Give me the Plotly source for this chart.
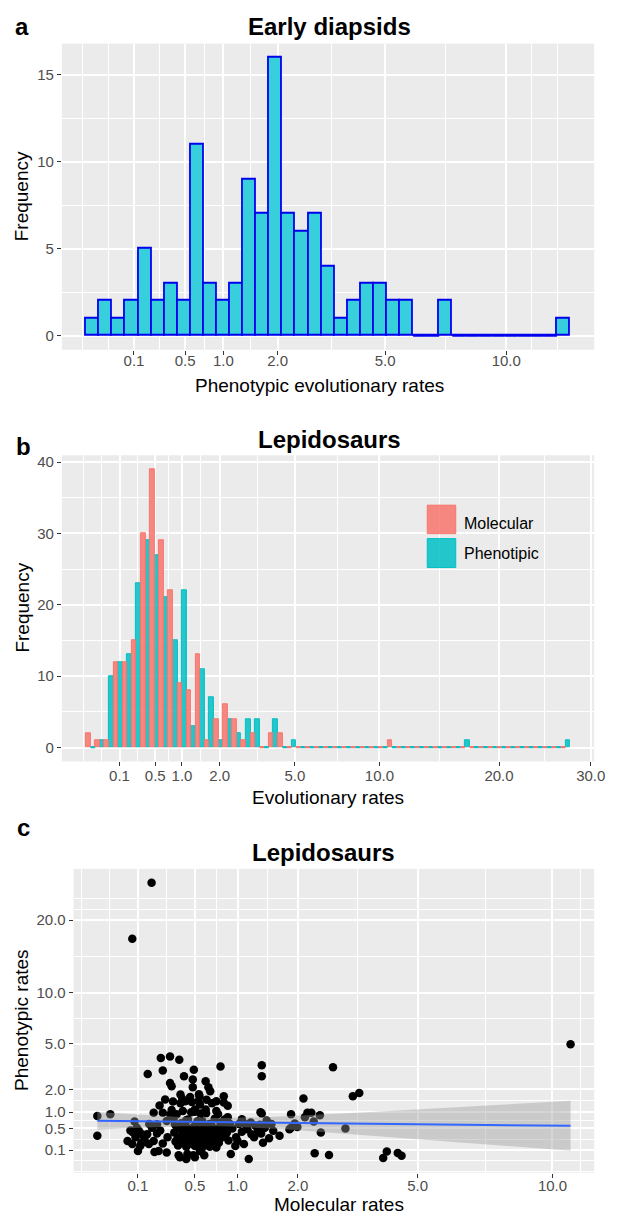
import numpy as np
import plotly.graph_objects as go

W, H = 618, 1219
FONT = "Liberation Sans, Arial, Helvetica, sans-serif"

# ---------------- DATA ----------------
# Panel a: Early diapsids, phenotypic rates (histogram, bins of width 0.1 on the sqrt scale)
early_binwidth_sqrt = 0.1
early_counts = [1, 2, 1, 2, 5, 2, 3, 2, 11, 3, 2, 3, 9, 7, 16, 7, 6, 7, 4, 1, 2, 3, 3, 2, 2,
                0, 0, 2, 0, 0, 0, 0, 0, 0, 0, 0, 1]

# Panel b: Lepidosaurs, molecular vs phenotypic rates (dodged histogram, sqrt-scale bins of 0.1)
lepi_binwidth_sqrt = 0.1
lepi_molecular_counts = [2, 1, 1, 12, 12, 15, 30, 39, 29, 22, 9, 8, 13, 1, 4, 6, 4, 1, 2, 0, 2, 2,
                         0, 0, 0, 0, 0, 0, 0, 0, 0, 0, 0, 1, 0, 0, 0, 0, 0, 0, 0, 0, 0, 0, 0, 0,
                         0, 0, 0, 0, 0, 0, 0]
lepi_phenotipic_counts = [0, 1, 10, 12, 13, 23, 29, 27, 21, 15, 22, 3, 11, 7, 1, 4, 2, 4, 4, 0, 4, 0, 1,
                          0, 0, 0, 0, 0, 0, 0, 0, 0, 0, 0, 0, 0, 0, 0, 0, 0, 0, 1, 0, 0, 0, 0, 0,
                          0, 0, 0, 0, 0, 1]

# Panel c: Lepidosaurs, (molecular rate, phenotypic rate) per taxon
lepi_rate_pairs = [
    (0.0014, 0.87), (0.016, 0.93), (0.0014, 0.33), (0.086, 0.69), (0.147, 2.86), (0.224, 3.92),
    (0.288, 4.03), (0.36, 3.80), (0.237, 3.07), (0.288, 2.34), (0.30, 2.16), (0.37, 1.74),
    (0.253, 1.51), (0.216, 1.26), (0.18, 0.98), (0.237, 0.98), (0.30, 1.08), (0.339, 0.93),
    (0.104, 0.44), (0.119, 0.36), (0.13, 0.26), (0.06, 0.23), (0.077, 0.18), (0.10, 0.09),
    (0.153, 0.18), (0.18, 0.23), (0.144, 0.36), (0.21, 0.09), (0.264, 0.075), (0.237, 0.19),
    (0.20, 0.61), (0.264, 0.71), (0.325, 0.61), (0.365, 0.034),
    (0.78, 3.34), (1.36, 3.41), (1.36, 2.72), (0.49, 3.13), (0.40, 2.72), (0.48, 2.53),
    (0.48, 2.11), (0.61, 2.43), (0.64, 2.11), (0.66, 1.90), (0.546, 1.66), (0.82, 1.66),
    (0.73, 1.44), (0.55, 1.30), (0.41, 1.44), (0.39, 1.04), (0.50, 1.10), (0.61, 1.10),
    (0.73, 1.04), (0.87, 0.83), (1.06, 0.76), (1.36, 0.95), (0.42, 0.73), (1.20, 0.36),
    (1.41, 0.52), (1.55, 0.44), (1.66, 0.33), (1.00, 0.23), (0.97, 0.15), (0.91, 0.06),
    (1.16, 0.024), (0.73, 0.13), (0.55, 0.09), (0.42, 0.024), (0.50, 0.034), (1.87, 0.93),
    (1.87, 0.52), (1.11, 0.61), (1.26, 0.57), (0.84, 0.36), (0.74, 0.26), (0.65, 0.36),
    (2.74, 3.28), (2.11, 1.56), (3.21, 1.66), (3.37, 1.82), (2.19, 0.98), (2.27, 0.98),
    (2.45, 0.89), (2.14, 0.83), (1.94, 0.63), (1.99, 0.54), (2.32, 0.69), (1.84, 0.48),
    (2.47, 0.40), (3.03, 0.50), (2.34, 0.066), (2.65, 0.051), (4.10, 0.085), (4.00, 0.03),
    (4.41, 0.069), (4.52, 0.046),
    (10.8, 4.97), (0.168, 26.5), (0.077, 17.1),
    (0.07, 0.45), (0.09, 0.30), (0.11, 0.15), (0.095, 0.52), (0.115, 0.20), (0.08, 0.40),
    (0.17, 0.52), (0.20, 0.38), (0.125, 0.21), (0.155, 0.62), (0.185, 0.08),
    (0.22, 0.45), (0.27, 0.30), (0.29, 0.92),
    (0.31, 1.42), (0.32, 0.40), (0.33, 0.22), (0.34, 0.55), (0.35, 0.16), (0.36, 0.30),
    (0.37, 1.35), (0.38, 0.46), (0.39, 0.20), (0.40, 0.35), (0.41, 0.62), (0.42, 0.14),
    (0.315, 0.78), (0.345, 0.27), (0.355, 0.05), (0.375, 0.64), (0.385, 1.55), (0.395, 0.42),
    (0.405, 0.24), (0.415, 0.50),
    (0.43, 0.06), (0.44, 0.18), (0.45, 0.32), (0.46, 0.50), (0.47, 1.40), (0.48, 0.26),
    (0.49, 0.42), (0.50, 0.15), (0.51, 0.60), (0.52, 0.22), (0.53, 0.36), (0.54, 1.75),
    (0.55, 0.48), (0.56, 0.28), (0.435, 0.75), (0.445, 0.40), (0.455, 1.62), (0.465, 1.00),
    (0.475, 0.34), (0.485, 0.05), (0.495, 0.56), (0.505, 0.30), (0.515, 0.19), (0.525, 0.70),
    (0.535, 1.45), (0.545, 0.39), (0.555, 0.95), (0.50, 1.02),
    (0.57, 0.12), (0.58, 0.35), (0.59, 0.20), (0.60, 0.55), (0.61, 0.28), (0.62, 1.50),
    (0.63, 0.44), (0.64, 0.16), (0.65, 0.62), (0.66, 0.25), (0.67, 0.38), (0.68, 1.35),
    (0.69, 0.50), (0.70, 0.30), (0.71, 0.78), (0.72, 0.20), (0.575, 0.70), (0.595, 0.05),
    (0.615, 0.96), (0.635, 0.33), (0.655, 0.14), (0.675, 0.58), (0.695, 0.22), (0.715, 0.42),
    (0.74, 0.50), (0.76, 0.20), (0.78, 0.66), (0.80, 0.30), (0.82, 1.38), (0.84, 0.56),
    (0.86, 0.40), (0.88, 0.24), (0.90, 0.62), (0.75, 0.94), (0.79, 0.45), (0.83, 0.75),
    (0.87, 1.25), (0.77, 0.35),
    (0.93, 0.50), (0.98, 0.30), (1.02, 0.62), (1.06, 0.42), (1.09, 0.18),
    (1.14, 0.48), (1.19, 0.66), (1.24, 0.30), (1.30, 0.45),
    (1.33, 0.60), (1.35, 0.38), (1.38, 0.20), (1.40, 0.55), (1.44, 0.72), (1.48, 0.28),
    (1.52, 0.62), (1.34, 1.00),
]
molecular_rates = [p[0] for p in lepi_rate_pairs]
phenotypic_rates = [p[1] for p in lepi_rate_pairs]

# Axis tick labels (original units)
ticks_a = [0.1, 0.5, 1.0, 2.0, 5.0, 10.0]
ticks_b = [0.1, 0.5, 1.0, 2.0, 5.0, 10.0, 20.0, 30.0]
ticks_c_x = [0.1, 0.5, 1.0, 2.0, 5.0, 10.0]
ticks_c_y = [0.1, 0.5, 1.0, 2.0, 5.0, 10.0, 20.0]
freq_ticks_a = [0, 5, 10, 15]
freq_ticks_b = [0, 10, 20, 30, 40]

# ---------------- HELPERS ----------------
def px(x):
    return x / W

def py(y):
    return 1 - y / H

def expand(lo, hi, mult=0.05):
    d = (hi - lo) * mult
    return [lo - d, hi + d]

def minor_breaks(major, rng):
    b = list(major)
    bd = b[1] - b[0]
    lo, hi = rng
    if lo < b[0]:
        b = [b[0] - bd] + b
    if hi > b[-1]:
        b = b + [b[-1] + bd]
    out = []
    for a, c in zip(b[:-1], b[1:]):
        out += [a, (a + c) / 2]
    out.append(b[-1])
    mj = [round(v, 9) for v in major]
    return [v for v in out if lo <= v <= hi and round(v, 9) not in mj]

def fmt(v):
    return f"{v:.1f}"

TICKFONT = dict(family=FONT, size=15, color="#4D4D4D")
GRID_MAJOR = 2.0
GRID_MINOR = 1.0

def axis_common(domain, rng, tickvals, ticktext, anchor, minor_vals, standoff=0):
    d = dict(
        domain=domain, range=rng, anchor=anchor,
        tickmode="array", tickvals=tickvals, ticktext=ticktext,
        ticks="outside", ticklen=4, tickwidth=1, tickcolor="#333333",
        tickfont=TICKFONT, showgrid=True, gridcolor="white", gridwidth=GRID_MAJOR,
        zeroline=False, showline=False, fixedrange=True,
        minor=dict(tickmode="array", tickvals=minor_vals, showgrid=True,
                   gridcolor="white", gridwidth=GRID_MINOR, ticks=""),
    )
    if standoff:
        d["ticklabelstandoff"] = standoff
    return d

fig = go.Figure()

# ---------------- PANEL A ----------------
wa = early_binwidth_sqrt
ca = np.arange(len(early_counts)) * wa
BLUE = "#0000EE"
fig.add_trace(go.Bar(
    x=ca, y=early_counts, width=wa, xaxis="x", yaxis="y",
    marker=dict(color="#36CFDB", line=dict(color=BLUE, width=1.8)),
    showlegend=False, hoverinfo="skip"))
zx, zy = [], []
for c, n in zip(ca, early_counts):
    if n == 0:
        zx += [c - wa / 2, c + wa / 2, None]
        zy += [0, 0, None]
fig.add_trace(go.Scatter(x=zx, y=zy, mode="lines", line=dict(color=BLUE, width=1.8),
                         xaxis="x", yaxis="y", showlegend=False, hoverinfo="skip"))
xa_rng = expand(ca[0] - wa / 2, ca[-1] + wa / 2)
ya_rng = expand(0, max(early_counts))

# ---------------- PANEL B ----------------
SALMON = "#F8766D"
TEAL = "#00BFC4"
wb = lepi_binwidth_sqrt
cb = np.arange(len(lepi_molecular_counts)) * wb
fig.add_trace(go.Bar(
    x=cb + wb / 4, y=lepi_phenotipic_counts, width=wb / 2, xaxis="x2", yaxis="y2",
    marker=dict(color="rgba(0,191,196,0.85)", line=dict(color=TEAL, width=1.0)),
    showlegend=False, hoverinfo="skip"))
fig.add_trace(go.Bar(
    x=cb - wb / 4, y=lepi_molecular_counts, width=wb / 2, xaxis="x2", yaxis="y2",
    marker=dict(color="rgba(248,118,109,0.85)", line=dict(color=SALMON, width=1.0)),
    showlegend=False, hoverinfo="skip"))
for counts, off, col in [(lepi_molecular_counts, -wb / 4, SALMON), (lepi_phenotipic_counts, wb / 4, TEAL)]:
    zx, zy = [], []
    for c, n in zip(cb, counts):
        if n == 0:
            zx += [c + off - wb / 4, c + off + wb / 4, None]
            zy += [0, 0, None]
    fig.add_trace(go.Scatter(x=zx, y=zy, mode="lines", line=dict(color=col, width=1.6),
                             xaxis="x2", yaxis="y2", showlegend=False, hoverinfo="skip"))
xb_rng = expand(cb[0] - wb / 2, cb[-1] + wb / 2)
yb_rng = expand(0, max(max(lepi_molecular_counts), max(lepi_phenotipic_counts)))

# ---------------- PANEL C ----------------
X = np.sqrt(np.array(molecular_rates))
Y = np.sqrt(np.array(phenotypic_rates))
fig.add_trace(go.Scatter(x=X, y=Y, mode="markers", xaxis="x3", yaxis="y3",
                         marker=dict(color="black", size=8.5, line=dict(width=0)),
                         showlegend=False, hoverinfo="skip"))
n = len(X)
slope, intercept = np.polyfit(X, Y, 1)
res = Y - (intercept + slope * X)
s = np.sqrt(np.sum(res ** 2) / (n - 2))
xbar = X.mean()
sxx = np.sum((X - xbar) ** 2)
tcrit = 1.9711
xf = np.linspace(X.min(), X.max(), 80)
yf = intercept + slope * xf
se = s * np.sqrt(1 / n + (xf - xbar) ** 2 / sxx)
lo, hi = yf - tcrit * se, yf + tcrit * se
fig.add_trace(go.Scatter(x=np.concatenate([xf, xf[::-1]]), y=np.concatenate([hi, lo[::-1]]),
                         fill="toself", fillcolor="rgba(153,153,153,0.4)", line=dict(width=0),
                         mode="lines", xaxis="x3", yaxis="y3", showlegend=False, hoverinfo="skip"))
fig.add_trace(go.Scatter(x=xf, y=yf, mode="lines", line=dict(color="#3366FF", width=2),
                         xaxis="x3", yaxis="y3", showlegend=False, hoverinfo="skip"))
xc_rng = expand(X.min(), X.max())
yc_rng = expand(Y.min(), Y.max())

# ---------------- LAYOUT ----------------
dom_xa = [px(63), px(605)]
dom_ya = [py(348.3), py(41.7)]
dom_xb = [px(63), px(605)]
dom_yb = [py(760.7), py(454)]
dom_xc = [px(75), px(605)]
dom_yc = [py(1172.7), py(868.3)]

sa = list(np.sqrt(ticks_a)); sb = list(np.sqrt(ticks_b))
scx = list(np.sqrt(ticks_c_x)); scy = list(np.sqrt(ticks_c_y))

layout = dict(
    width=W, height=H, margin=dict(l=0, r=0, t=0, b=0),
    paper_bgcolor="white", plot_bgcolor="#EBEBEB",
    barmode="overlay", bargap=0, showlegend=False,
    font=dict(family=FONT, color="black"),
    xaxis=axis_common(dom_xa, xa_rng, sa, [fmt(v) for v in ticks_a], "y", minor_breaks(sa, xa_rng), -7),
    yaxis=axis_common(dom_ya, ya_rng, freq_ticks_a, [str(v) for v in freq_ticks_a], "x",
                      minor_breaks(freq_ticks_a, ya_rng)),
    xaxis2=axis_common(dom_xb, xb_rng, sb, [fmt(v) for v in ticks_b], "y2", minor_breaks(sb, xb_rng), -3),
    yaxis2=axis_common(dom_yb, yb_rng, freq_ticks_b, [str(v) for v in freq_ticks_b], "x2",
                       minor_breaks(freq_ticks_b, yb_rng)),
    xaxis3=axis_common(dom_xc, xc_rng, scx, [fmt(v) for v in ticks_c_x], "y3", minor_breaks(scx, xc_rng), -5),
    yaxis3=axis_common(dom_yc, yc_rng, scy, [fmt(v) for v in ticks_c_y], "x3", minor_breaks(scy, yc_rng)),
)
fig.update_layout(**layout)

def ann(text, x, y, size, bold=False, angle=0, xanchor="center", color="black"):
    return dict(text=f"<b>{text}</b>" if bold else text, x=px(x), y=py(y), xref="paper", yref="paper",
                showarrow=False, xanchor=xanchor, yanchor="middle", textangle=angle,
                font=dict(family=FONT, size=size, color=color))

annotations = [
    ann("a", 13, 25, 24, bold=True, xanchor="left"),
    ann("Early diapsids", 335, 25, 24, bold=True),
    ann("Frequency", 22, 195, 19, angle=-90),
    ann("Phenotypic evolutionary rates", 325, 384, 19),
    ann("b", 14, 445, 24, bold=True, xanchor="left"),
    ann("Lepidosaurs", 335, 438, 24, bold=True),
    ann("Frequency", 22, 607, 19, angle=-90),
    ann("Evolutionary rates", 334, 797, 19),
    ann("Molecular", 470, 522, 16, xanchor="left"),
    ann("Phenotipic", 470, 552, 16, xanchor="left"),
    ann("c", 15, 827, 24, bold=True, xanchor="left"),
    ann("Lepidosaurs", 329, 852, 24, bold=True),
    ann("Phenotypic rates", 22, 1020, 19, angle=-90),
    ann("Molecular rates", 345, 1204, 19),
]
shapes = [
    dict(type="rect", xref="paper", yref="paper", x0=px(435), x1=px(464), y0=py(532.5), y1=py(504),
         fillcolor="rgba(248,118,109,0.85)", line=dict(color=SALMON, width=1)),
    dict(type="rect", xref="paper", yref="paper", x0=px(435), x1=px(464), y0=py(566.5), y1=py(537.5),
         fillcolor="rgba(0,191,196,0.85)", line=dict(color=TEAL, width=1)),
]
fig.update_layout(annotations=annotations, shapes=shapes)

fig.write_html("out.html")
